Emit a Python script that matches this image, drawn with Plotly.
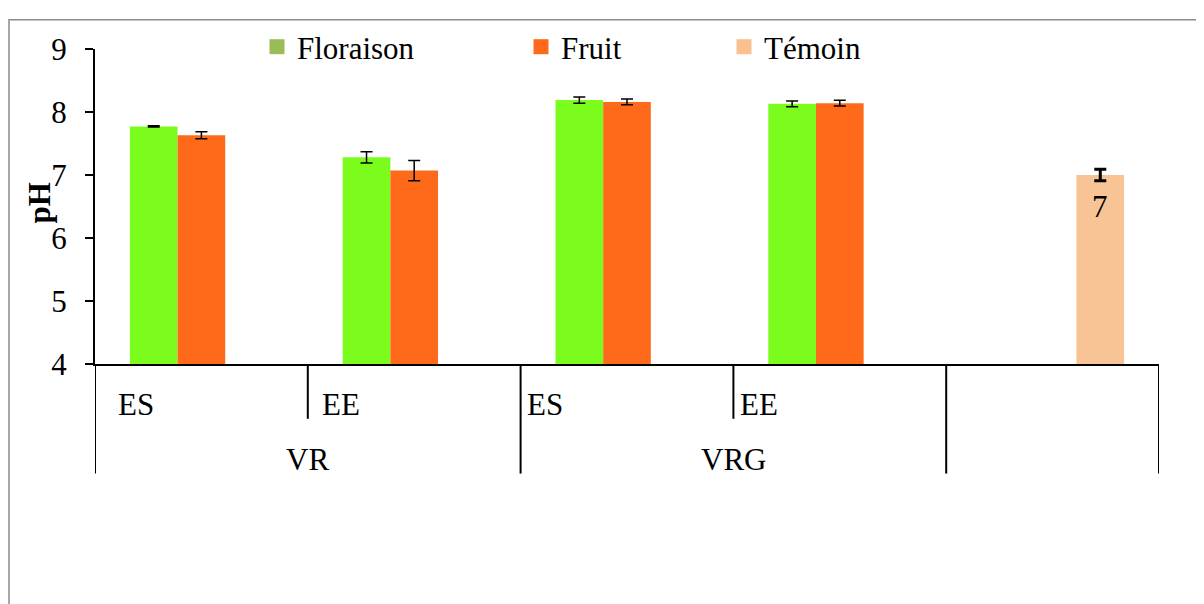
import plotly.graph_objects as go

# ---- data ----
categories = ["VR ES", "VR EE", "VRG ES", "VRG EE", "Témoin"]
groups = ["VR", "VR", "VRG", "VRG", ""]
subs = ["ES", "EE", "ES", "EE", ""]

floraison = [7.77, 7.28, 8.19, 8.13]
floraison_err = [0.01, 0.09, 0.05, 0.045]
fruit = [7.63, 7.07, 8.16, 8.14]
fruit_err = [0.055, 0.16, 0.045, 0.045]
temoin = [7.0]
temoin_err = [0.09]
temoin_labels = ["7"]

series_names = ["Floraison", "Fruit", "Témoin"]
legend_colors = ["#9BBB59", "#FF6A1A", "#FAC090"]
bar_colors = ["#7CFC1C", "#FF6A1A", "#F9C495"]

FONT = "Liberation Serif"
FS = 31

OFF = 8  # page body margin in the browser
W, H = 1204, 604
L = 95 - OFF
T = 42 - OFF
R = W - (1159 - OFF)
B = H - (364 - OFF)
pw = W - L - R
ph = H - T - B

BARGAP = 0.328
N_SERIES = 3


def px_x(p):
    return (p - OFF - L) / pw


def px_y(p):
    return (H - B - (p - OFF)) / ph


fig = go.Figure()
fig.add_trace(go.Bar(x=categories[:4], y=floraison, marker_color=bar_colors[0],
                     marker_line_width=0, showlegend=False, name=series_names[0],
                     error_y=dict(type="data", array=floraison_err, color="black",
                                  thickness=1.5, width=6)))
fig.add_trace(go.Bar(x=categories[:4], y=fruit, marker_color=bar_colors[1],
                     marker_line_width=0, showlegend=False, name=series_names[1],
                     error_y=dict(type="data", array=fruit_err, color="black",
                                  thickness=1.5, width=6)))
fig.add_trace(go.Bar(x=categories[4:], y=temoin, marker_color=bar_colors[2],
                     marker_line_width=0, showlegend=False, name=series_names[2],
                     error_y=dict(type="data", array=temoin_err, color="black",
                                  thickness=3, width=6)))

# legend-only entries (legend colours differ from bar colours in the reference)
legend_ids = ["legend", "legend2", "legend3"]
legend_px = [257, 521, 724]  # left pixel of each legend item
for name, col, lid in zip(series_names, legend_colors, legend_ids):
    fig.add_trace(go.Scatter(x=[None], y=[None], mode="markers", name=name,
                             marker=dict(symbol="square", size=15, color=col),
                             showlegend=True, legend=lid))

legend_common = dict(orientation="h", font=dict(family=FONT, size=FS, color="black"),
                     bgcolor="rgba(0,0,0,0)", xanchor="left", yanchor="middle",
                     y=px_y(40))
layout_legends = {}
for lid, p in zip(legend_ids, legend_px):
    layout_legends[lid] = dict(legend_common, x=px_x(p))

shapes = []
# outer chart border
shapes.append(dict(type="rect", xref="paper", yref="paper",
                   x0=px_x(9), x1=px_x(1260), y0=px_y(660), y1=px_y(12),
                   line=dict(color="#8C8C8C", width=1.5), fillcolor="rgba(0,0,0,0)",
                   layer="below"))
# category dividers below x axis
long_y = px_y(476)
short_y = px_y(420)
n = len(categories)
for i in range(n + 1):
    is_group_boundary = (i == 0 or i == n or groups[i - 1] != groups[i])
    shapes.append(dict(type="line", xref="x", yref="paper",
                       x0=i - 0.5, x1=i - 0.5, y0=0, y1=long_y if is_group_boundary else short_y,
                       line=dict(color="black", width=2)))

annotations = []
sub_offsets = [0.10, 0.056, 0.02, 0.02, 0]
for i, s in enumerate(subs):
    if s:
        annotations.append(dict(x=i - 0.5 + sub_offsets[i], y=px_y(405), xref="x", yref="paper",
                                text=s, showarrow=False, xanchor="left", yanchor="middle",
                                font=dict(family=FONT, size=FS, color="black")))
seen = []
for g in groups:
    if g and g not in seen:
        seen.append(g)
for g in seen:
    idx = [i for i, gg in enumerate(groups) if gg == g]
    annotations.append(dict(x=(idx[0] + idx[-1]) / 2, y=px_y(462), xref="x", yref="paper",
                            text=g, showarrow=False, xanchor="center", yanchor="middle",
                            font=dict(family=FONT, size=FS, color="black")))
annotations.append(dict(x=px_x(40), y=px_y(200), xref="paper", yref="paper", text="<b>pH</b>",
                        textangle=-90, showarrow=False, xanchor="center", yanchor="middle",
                        font=dict(family=FONT, size=FS, color="black")))

# data label of the Témoin bar (third slot of the group), inside below its top
slot_px = pw / n * (1 - BARGAP) / N_SERIES
annotations.append(dict(x=categories[4], y=temoin[0], xref="x", yref="y",
                        text=temoin_labels[0], showarrow=False,
                        xanchor="center", yanchor="middle",
                        xshift=slot_px, yshift=-31,
                        font=dict(family=FONT, size=FS, color="black")))

fig.update_layout(
    width=W, height=H,
    margin=dict(l=L, r=R, t=T, b=B, pad=0),
    paper_bgcolor="white", plot_bgcolor="white",
    barmode="group", bargap=BARGAP, bargroupgap=0,
    shapes=shapes, annotations=annotations,
    **layout_legends,
    xaxis=dict(type="category", categoryorder="array", categoryarray=categories,
               range=[-0.5, n - 0.5], showticklabels=False, ticks="",
               showline=True, linecolor="black", linewidth=2, showgrid=False,
               zeroline=False),
    yaxis=dict(range=[4, 9], dtick=1, tick0=4, ticks="outside", ticklen=8, tickwidth=2,
               tickcolor="black", showline=True, linecolor="black", linewidth=2,
               showgrid=False, zeroline=False, ticklabelstandoff=12,
               tickfont=dict(family=FONT, size=FS, color="black")),
)

fig.write_html("out.html")
